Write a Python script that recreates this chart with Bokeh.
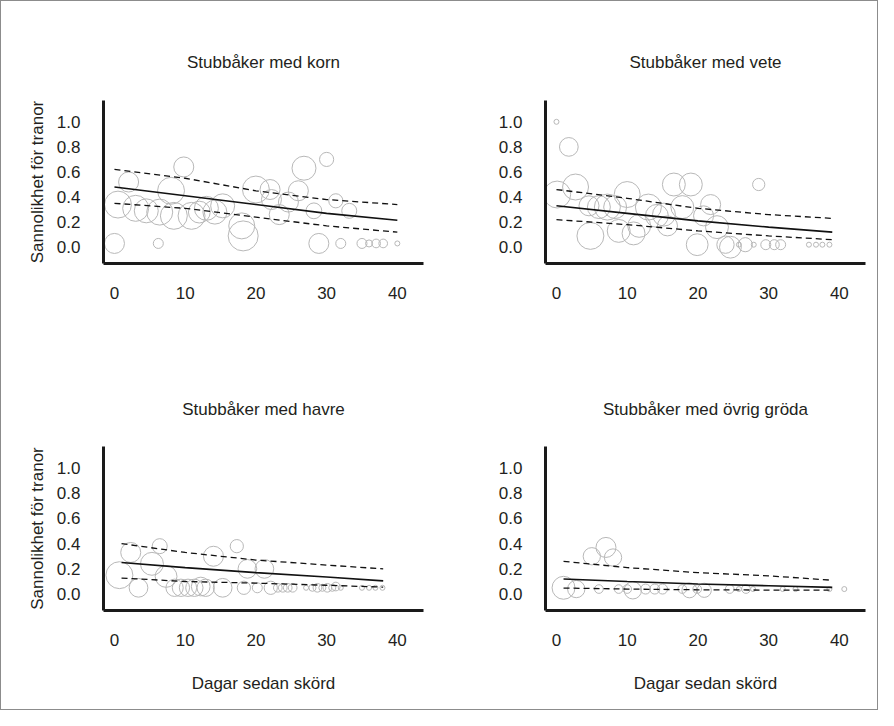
import math
from bokeh.plotting import figure
from bokeh.layouts import gridplot
from bokeh.models import FixedTicker, Range1d, CustomJSTickFormatter, ColumnDataSource
from bokeh.embed import file_html
from bokeh.resources import INLINE

# ---------------- data ----------------
titles = ["Stubbåker med korn", "Stubbåker med vete",
          "Stubbåker med havre", "Stubbåker med övrig gröda"]
y_label = "Sannolikhet för tranor"
x_label = "Dagar sedan skörd"
x_ticks = [0, 10, 20, 30, 40]
y_ticks = [0.0, 0.2, 0.4, 0.6, 0.8, 1.0]

# korn
korn_dagar = [0, 0.5, 2, 3, 4.5, 6.2, 6.4, 8, 8.4, 9.8, 10.9, 12, 13, 14.2, 15.3, 18, 18.2, 20, 22, 22.2,
              23.3, 24.6, 26, 26.8, 28.2, 30, 31.3, 33.2, 28.9, 32, 35, 36, 37, 38, 40]
korn_andel = [0.03, 0.34, 0.52, 0.31, 0.29, 0.03, 0.28, 0.45, 0.25, 0.64, 0.25, 0.28, 0.31, 0.28, 0.33,
              0.17, 0.09, 0.46, 0.46, 0.38, 0.26, 0.36, 0.45, 0.63, 0.29, 0.70, 0.37, 0.29, 0.03, 0.03,
              0.03, 0.03, 0.03, 0.03, 0.03]
korn_antal = [16, 29, 16, 27, 23, 4, 27, 29, 29, 16, 29, 19, 23, 23, 23, 27, 36, 29, 16, 16,
              16, 16, 16, 23, 10, 8, 8, 9, 16, 4, 4, 2, 3, 3, 1]
korn_kx = [0, 10, 20, 30, 40]
korn_fit = [0.48, 0.41, 0.34, 0.27, 0.215]
korn_hi = [0.62, 0.55, 0.45, 0.38, 0.34]
korn_lo = [0.35, 0.31, 0.24, 0.17, 0.12]

# vete
vete_dagar = [0, 1.75, 0.1, 2.7, 4.8, 4.6, 6.0, 7.2, 8.3, 8.8, 10, 10.9, 11.7, 13, 14.2, 15.7, 15.2, 16.6,
              19, 17.8, 19.9, 20.8, 21.8, 22.7, 23.9, 24.6, 25.8, 26.7, 27.9, 28.6, 29.6, 30.8, 31.7,
              35.7, 36.7, 37.6, 38.6]
vete_andel = [1.0, 0.8, 0.42, 0.48, 0.09, 0.33, 0.32, 0.32, 0.32, 0.13, 0.42, 0.11, 0.17, 0.32, 0.25,
              0.17, 0.26, 0.5, 0.5, 0.32, 0.02, 0.25, 0.34, 0.16, 0.02, 0.0, 0.02, 0.02, 0.02, 0.5,
              0.02, 0.02, 0.02, 0.02, 0.02, 0.02, 0.02]
vete_antal = [1, 14, 29, 27, 29, 16, 21, 27, 21, 21, 27, 21, 21, 27, 21, 16, 21, 21, 21, 21,
              19, 16, 16, 21, 12, 19, 1, 8, 1, 6, 4, 4, 4, 1, 1, 1, 1]
vete_kx = [0, 10, 20, 30, 39]
vete_fit = [0.33, 0.27, 0.21, 0.16, 0.12]
vete_hi = [0.46, 0.39, 0.31, 0.26, 0.23]
vete_lo = [0.22, 0.18, 0.13, 0.09, 0.06]

# havre
havre_dagar = [0.7, 2.3, 3.4, 5.3, 6.4, 7.3, 8.5, 9.4, 10.4, 11.3, 12.2, 12.9, 14, 15.3, 17.3, 18.8, 21.2,
               18.3, 20.2, 22.1, 23.1, 23.8, 24.5, 25.2, 27.1, 28, 28.7, 29.4, 30.1, 30.8, 31.3, 32,
               35, 36, 36.9, 37.9]
havre_andel = [0.15, 0.33, 0.05, 0.24, 0.38, 0.14, 0.05, 0.05, 0.05, 0.05, 0.06, 0.05, 0.30, 0.05, 0.38,
               0.20, 0.20, 0.05, 0.05, 0.05, 0.05, 0.05, 0.05, 0.05, 0.05, 0.05, 0.05, 0.05, 0.05, 0.05,
               0.06, 0.05, 0.05, 0.05, 0.05, 0.05]
havre_antal = [29, 16, 14, 21, 9, 19, 12, 12, 12, 12, 14, 12, 16, 14, 7, 14, 14, 7, 4, 7,
               3, 3, 3, 3, 1, 2, 3, 2, 3, 2, 3, 1, 1, 1, 1, 1]
havre_kx = [1, 10, 20, 30, 38]
havre_fit = [0.25, 0.21, 0.17, 0.135, 0.105]
havre_hi = [0.40, 0.33, 0.27, 0.23, 0.20]
havre_lo = [0.127, 0.10, 0.087, 0.07, 0.055]

# övrig gröda
ovrig_dagar = [1, 2.8, 5, 7, 8, 6, 8.8, 10, 10.8, 12.6, 13.9, 15, 17.8, 18.8, 19.9, 20.9, 24.5, 25.8,
               26.8, 27.8, 32, 33.8, 38.6, 40.7]
ovrig_andel = [0.05, 0.04, 0.30, 0.37, 0.29, 0.04, 0.04, 0.04, 0.03, 0.04, 0.04, 0.04, 0.04, 0.03, 0.04,
               0.03, 0.04, 0.04, 0.04, 0.04, 0.04, 0.04, 0.04, 0.04]
ovrig_antal = [21, 12, 12, 16, 12, 3, 3, 3, 12, 4, 4, 4, 3, 9, 3, 8, 3, 1, 3, 1, 1, 1, 1, 1]
ovrig_kx = [1, 10, 20, 30, 39]
ovrig_fit = [0.12, 0.10, 0.08, 0.066, 0.053]
ovrig_hi = [0.26, 0.21, 0.17, 0.145, 0.11]
ovrig_lo = [0.048, 0.04, 0.034, 0.032, 0.032]

# ---------------- styling ----------------
FONT = "Liberation Sans"
TEXT = "#231f20"
BUBBLE = "#b8b8b8"


def panel(title, bx, by, bn, kx, fit, hi, lo, left, bottom):
    top_b = 99 if not bottom else 91
    bot_b = 92 if not bottom else 99
    lb = 102 if left else 106
    p = figure(width=438, height=354, output_backend="svg", toolbar_location=None,
               x_range=Range1d(-1.55, 43.7), y_range=Range1d(-0.13, 1.17),
               min_border_left=lb, min_border_right=438 - 320 - lb,
               min_border_top=top_b, min_border_bottom=bot_b,
               background_fill_color="white", border_fill_color="white")
    p.outline_line_color = None
    p.grid.visible = False

    p.title.text = title
    p.title.align = "center"
    p.title.text_font = FONT
    p.title.text_font_size = "17px"
    p.title.text_font_style = "normal"
    p.title.text_color = TEXT
    p.title.standoff = 57 if not bottom else 55

    src = ColumnDataSource(dict(x=bx, y=by, s=[5.0 * math.sqrt(v) for v in bn]))
    p.scatter("x", "y", size="s", source=src, marker="circle",
              fill_color=None, line_color=BUBBLE, line_width=1.0)

    p.line(kx, fit, line_color="#111111", line_width=1.6)
    p.line(kx, hi, line_color="#111111", line_width=1.3, line_dash="6 4")
    p.line(kx, lo, line_color="#111111", line_width=1.3, line_dash="6 4")

    for ax in (p.xaxis[0], p.yaxis[0]):
        ax.axis_line_width = 3
        ax.axis_line_color = "#1a1a1a"
        ax.major_tick_line_color = None
        ax.minor_tick_line_color = None
        ax.major_label_text_font = FONT
        ax.major_label_text_font_size = "17px"
        ax.major_label_text_color = TEXT
        ax.axis_label_text_font = FONT
        ax.axis_label_text_font_size = "17px"
        ax.axis_label_text_font_style = "normal"
        ax.axis_label_text_color = TEXT

    p.xaxis.ticker = FixedTicker(ticks=x_ticks)
    p.yaxis.ticker = FixedTicker(ticks=y_ticks)
    p.yaxis.formatter = CustomJSTickFormatter(code="return tick.toFixed(1);")
    p.xaxis.major_label_standoff = 17
    p.yaxis.major_label_standoff = 17
    if left:
        p.yaxis.axis_label = y_label
        p.yaxis.axis_label_standoff = 7
    if bottom:
        p.xaxis.axis_label = x_label
        p.xaxis.axis_label_standoff = 25
    return p


p1 = panel(titles[0], korn_dagar, korn_andel, korn_antal, korn_kx, korn_fit, korn_hi, korn_lo, True, False)
p2 = panel(titles[1], vete_dagar, vete_andel, vete_antal, vete_kx, vete_fit, vete_hi, vete_lo, False, False)
p3 = panel(titles[2], havre_dagar, havre_andel, havre_antal, havre_kx, havre_fit, havre_hi, havre_lo, True, True)
p4 = panel(titles[3], ovrig_dagar, ovrig_andel, ovrig_antal, ovrig_kx, ovrig_fit, ovrig_hi, ovrig_lo, False, True)

grid = gridplot([[p1, p2], [p3, p4]], toolbar_location=None)
grid.styles = {"border": "1px solid #8c8c8c"}

open("out.html", "w").write(file_html(grid, INLINE))
